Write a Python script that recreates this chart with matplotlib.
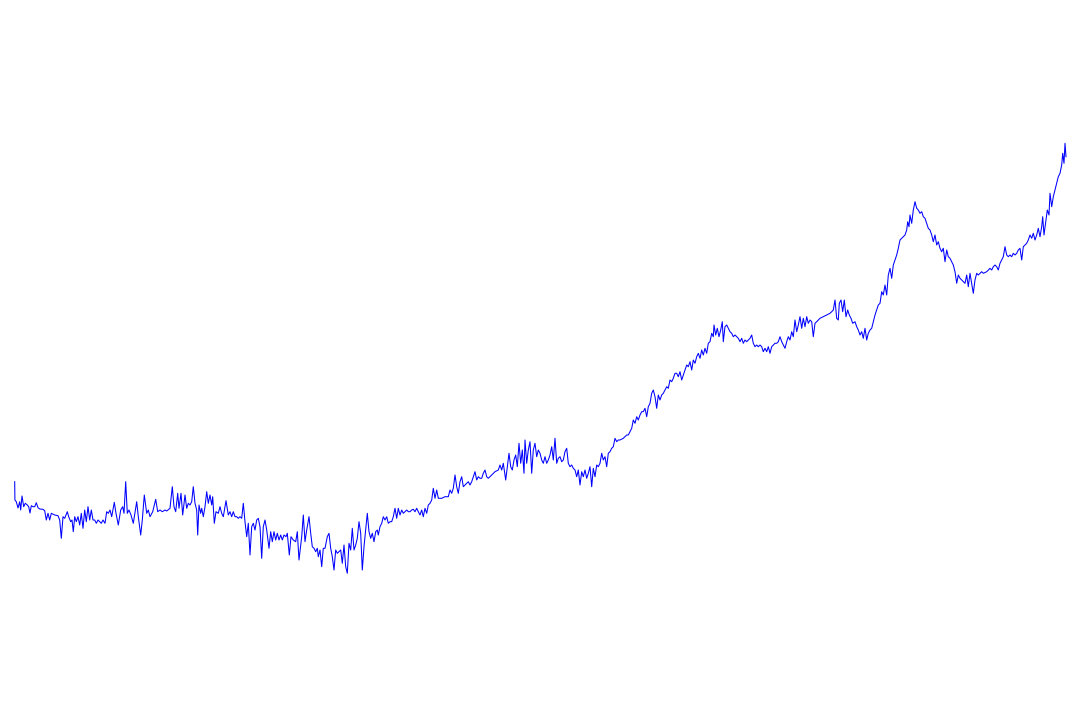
import numpy as np
import matplotlib
matplotlib.use("Agg")
import matplotlib.pyplot as plt

# series, in chunks along the time axis
day_a = [14.7, 14.9, 16.3, 18, 19.7, 20.7, 22, 23.7, 25.3, 27.3, 28.7, 30, 31.3, 33, 34.7, 36.3, 38, 39.7, 43, 44.7,
         46.3, 48, 49.7, 51.3, 54.7, 58, 59.7, 61.3, 63, 64.7, 67.3, 68.7, 70.7, 72, 73.3, 74.7, 76.3, 78, 79.7, 81.3,
         83, 84.7, 86.3, 88, 89.7, 91.3, 93, 94.7, 96.3, 98, 99.7, 101.3, 103]
val_a = [118.3, 100, 98.3, 92, 98.3, 90, 104, 93.3, 96.7, 95, 93.3, 87, 94.3, 93.3, 93.3, 97.3, 92.3, 91, 90.7, 89.3,
         80, 86.7, 80, 86.7, 85, 84.3, 80, 61.7, 83.3, 81.7, 88.3, 83.3, 78.3, 80, 68.3, 83.3, 78.3, 83.3, 75, 86.7,
         71.7, 90, 78.3, 93.3, 80, 90, 80, 80, 76.7, 80, 78.3, 76.7, 80]

day_b = [105, 106.7, 108.3, 110, 111.7, 114.3, 116, 118.3, 120.7, 122.7, 124, 125.7, 127.3, 129, 131, 133.3, 136.7,
         138.3, 140.7, 142.3, 144.3, 146.7, 148.3, 150, 152.7, 155.7, 157.7, 160, 162.3, 165, 166.7, 170, 172.3, 174,
         175.7, 177.7, 179, 181, 182.7, 185, 186.7, 188.3, 190, 191.7, 193.3, 195, 196.7, 197.7, 199]
val_b = [76.7, 88.3, 86.7, 90, 83.3, 97.7, 86.7, 75, 90, 93.3, 86.7, 118.3, 86.7, 90, 85, 76.7, 98.3, 83.3, 65, 80,
         105, 86.7, 90, 83.3, 88.3, 100.7, 88.3, 90, 88.3, 90, 89, 91.7, 113.3, 93.3, 88.3, 106.7, 91.7, 106.7, 85,
         105, 91.7, 96.7, 95, 98.3, 113.3, 96.7, 90, 65, 95]

day_c = [200.7, 201.7, 203.3, 205, 206.7, 208.3, 210, 211.7, 212.7, 214.3, 216, 218.3, 220, 221.7, 223.3, 226, 228.3,
         230, 231.7, 233.3, 235, 236.7, 238.3, 240, 241.7, 243.3, 245, 246.7, 248.3, 250, 251.7, 253.3, 255, 256.7,
         258.3, 260, 261.7, 263.3, 265, 266.7, 269, 270.7, 272.3, 274, 275.7, 277.3, 279, 280.7, 282.3, 284, 286,
         287.3, 289.3, 291, 293.3, 295.7, 297.3, 299]
val_c = [86.7, 91.7, 83.3, 93.3, 108.3, 96.7, 105, 95, 103.3, 76.7, 88.3, 86.7, 93.3, 86.7, 83.3, 99.3, 85, 88.3,
         83.3, 88.3, 83.3, 83.3, 81.7, 83.3, 81.7, 96.7, 78.3, 63.3, 76.7, 45, 73.3, 76.7, 70, 80, 81.7, 73.3, 41.7,
         73.3, 80, 70, 51.7, 68.3, 58.3, 68.3, 60, 66.7, 60, 65, 60, 65, 63.3, 66.7, 45, 63.3, 60, 58.3, 68.3, 40]

day_d = [301.7, 303.3, 305, 306.7, 309, 310.7, 312.3, 314, 315.7, 317.3, 318.3, 320, 321.7, 323.3, 325, 327.3, 329,
         330.7, 332.3, 334, 335.7, 337.3, 339, 340.7, 342.3, 344, 345.7, 347.3, 349, 350.7, 352.3, 354, 355.7, 357.3,
         359, 360.7, 362.3, 364, 365.7, 367.3, 369, 370.7, 372.3, 374, 375.7, 377.3, 378.3, 380, 381.7, 383.3, 385,
         386.7, 388.3]
val_d = [63.3, 85, 58.3, 70, 83.3, 66.7, 53.3, 51.7, 48.3, 51.7, 43.3, 50, 33.3, 51.7, 51.7, 63.3, 66.7, 51.7, 43.3,
         30, 50, 46.7, 48.3, 50, 36.7, 55, 33.3, 26.7, 56.7, 50, 71.7, 50, 55, 61.7, 78.3, 66.7, 30, 53.3, 70, 86.7,
         68.3, 61.7, 66.7, 58.3, 68.3, 70, 65, 73.3, 76.7, 83.3, 80, 83.3, 76.7]

day_e = [390, 391.7, 393.3, 395, 396.7, 398.3, 400, 401.7, 403.3, 405, 406.7, 408.3, 410, 411.7, 413.3, 415, 416.7,
         418.3, 420, 421.7, 423.3, 425, 426.7, 428.3, 430, 431.7, 433.3, 435, 436.7, 438.3, 441.7, 445, 448.3, 450,
         451.7, 453.3, 455, 456.7, 458.3, 460, 461.7, 463.3, 465, 466.7, 468.3, 470, 471.7, 475, 476.7, 478.3, 480,
         481.7, 483.3, 485]
val_e = [78.3, 78.3, 83.3, 91.7, 81.7, 91.7, 85, 90, 86.7, 88.3, 90, 88.3, 88.3, 90, 90.7, 88.3, 91.7, 88.3, 85, 90,
         83.3, 91.7, 86.7, 95, 96.7, 100, 111.7, 101.7, 110, 101.7, 101.7, 103.3, 103.3, 110, 106.7, 111.7, 125,
         113.3, 106.7, 118.3, 123.3, 113.3, 115, 116.7, 118.3, 115, 118.3, 128.3, 120, 123.3, 121.7, 121.7, 126.7, 130]

day_f = [486.7, 488.3, 490, 491.7, 495, 498.3, 500, 501.7, 503.3, 505.7, 507.3, 509, 510.7, 512.3, 514, 515.7, 517.3,
         519, 520.7, 522.3, 524, 525, 526.7, 528.3, 530, 531.7, 533.3, 535, 536.7, 538.3, 540, 541.7, 543.3, 545,
         546.7, 548.3, 550, 551.7, 553.3, 555, 556.7, 558.3, 560, 561.7, 563.3, 565, 566.7, 568.3, 570, 571.7, 573.3,
         575, 576.7, 578.3, 580, 581.7, 583.3]
val_f = [123.3, 121.7, 123.3, 125, 128.3, 130, 135, 130, 136.7, 120, 133.3, 146.7, 133.3, 130, 140, 145, 133.3, 156.7,
         136.7, 150, 126.7, 160, 136.7, 150, 158.3, 126.7, 150, 156.7, 143.3, 150, 146.7, 140, 136.7, 143.3, 136.7,
         140, 145, 153.3, 140, 161.7, 136.7, 141.7, 143.3, 138.3, 140, 148.3, 151.7, 136.7, 133.3, 135, 131.7, 130,
         123.3, 130, 115, 128.3, 123.3]

day_g = [585, 586.7, 588.3, 590, 591.7, 593.3, 595, 596.7, 598.3, 600, 601.7, 603.3, 605, 606.7, 608.3, 610, 611.7,
         613.3, 615, 616.7, 618.3, 620, 623.3, 626.7, 628.3, 630, 631.7, 633.3, 635, 636.7, 638.3, 640, 641.7, 643.3,
         645, 646.7, 648.3, 650, 651.7, 653.3, 655, 656.7, 658.3, 660, 661.7, 663.3, 665, 666.7, 668.3, 670, 671.7,
         673.3]
val_g = [130, 121.7, 126.7, 133.3, 113.3, 131.7, 123.3, 135, 133.3, 136.7, 146.7, 140, 143.3, 133.3, 146.7, 148.3,
         151.7, 153.3, 161.7, 158.3, 160, 160, 161.7, 165, 165, 168.3, 171.7, 180, 176.7, 183.3, 180, 185, 188.3,
         188.3, 191.7, 183.3, 193.3, 196.7, 206.7, 210, 203.3, 191.7, 205, 200, 205, 206.7, 210, 213.3, 211.7, 220,
         218.3, 221.7]

day_h = [675, 676.7, 678.3, 680, 681.7, 683.3, 685, 686.7, 688.3, 690, 691.7, 693.3, 695, 696.7, 698.3, 700, 701.7,
         703.3, 705, 706.7, 708.3, 710, 711.7, 713.3, 714, 715.7, 717.3, 719, 720.7, 722.3, 723.3, 725, 726.7, 728.3,
         730, 731.7, 733.3, 735, 736.7, 738.3, 740, 741.7, 743.3, 745, 746.7, 748.3, 750, 751.7, 753.3, 755, 756.7,
         758.3, 760, 761.7, 763.3, 765, 766.7, 768.3, 770, 771.7, 773.3, 775]
val_h = [226.7, 226.7, 223.3, 228.3, 220, 225, 230, 235, 233.3, 238.3, 230, 240, 236.7, 243.3, 246.7, 241.7, 250, 245,
         251.7, 246.7, 256.7, 258.3, 266.7, 263.3, 275, 265, 271.7, 263.3, 270, 278.3, 258.3, 273.3, 275, 271.7,
         268.3, 266.7, 263.3, 265, 263.3, 261.7, 258.3, 261.7, 256.7, 260, 258.3, 260, 261.7, 265, 256.7, 253.3, 255,
         253.3, 255, 253.3, 248.3, 251.7, 248.3, 253.3, 246.7, 253.3, 255, 256.7]

day_i = [776.7, 778.3, 780, 781.7, 783.3, 785, 786.7, 788.3, 790, 791.7, 793.3, 795, 796.7, 798.3, 800, 801.7, 803.3,
         805, 806.7, 808.3, 810, 811.7, 813.3, 815, 816.7, 820, 823.3, 826.7, 830, 831.7, 833.3, 835, 836.7, 838.3,
         839.3, 841, 842.7, 844.3, 846, 847.7, 849.3, 851, 852.7, 855, 856.7, 858.3, 860, 861.7, 863.3, 865, 866.7]
val_i = [256.7, 258.3, 263.3, 258.3, 255, 251.7, 258.3, 263.3, 260, 268.3, 263.3, 280, 268.3, 275, 283.3, 271.7,
         281.7, 273.3, 283.3, 276.7, 280, 278.3, 263.3, 276.7, 278.3, 281.7, 283.3, 285, 286.7, 288.3, 290, 300,
         281.7, 280, 296.7, 300, 288.3, 300, 283.3, 290, 285, 281.7, 276.7, 278.3, 273.3, 270, 265, 268.3, 261.7,
         271.7, 260]

day_j = [868.3, 870, 871.7, 873.3, 875, 876.7, 878.3, 880, 881.7, 883.3, 885, 886.7, 888.3, 890, 891.7, 893.3, 895,
         896.7, 898.3, 900, 901.7, 903.3, 905, 906.7, 907.7, 909, 910, 911.7, 913.3, 915, 916.7, 918.3, 920, 921.7,
         923.3, 925, 926.7, 928.3, 930, 931.7, 933.3, 935, 936.7, 938.3, 940, 941.7, 943.3, 945, 946.7, 948.3, 950,
         951.7, 953.3, 955, 956.7, 958.3, 960, 961.7, 963.3, 965]
val_j = [266.7, 270, 271.7, 278.3, 285, 290, 295, 296.7, 308.3, 305, 315, 305, 325, 331.7, 321.7, 335, 340, 345,
         351.7, 360, 361.7, 363.3, 365, 370, 378.3, 373.3, 385, 376.7, 390, 398.3, 391.7, 390, 386.7, 388.3, 383.3,
         381.7, 376.7, 371.7, 370, 365, 358.3, 365, 355, 358.3, 351.7, 348.3, 351.7, 338.3, 350, 343.3, 341.7, 338.3,
         335, 328.3, 316.7, 325, 321.7, 320, 318.3, 316.7]

day_k = [966.7, 968.3, 970, 971.7, 973.3, 975, 976.7, 978.3, 980, 981.7, 983.3, 986.7, 990, 991.7, 993.3, 995, 996.7,
         998.3, 1000, 1001.7, 1003.3, 1005, 1006.7, 1008.3, 1010, 1011.7, 1013.3, 1015, 1016.7, 1018.3, 1020, 1021.7,
         1023.3, 1025, 1026.7, 1028.3, 1030, 1031.7, 1033.3, 1035, 1036.7, 1038.3, 1040, 1041.7, 1042.7, 1044,
         1045.7, 1047.3, 1049, 1050, 1051.7, 1053.3, 1055, 1056.7, 1058.3, 1060, 1061.7, 1062.7, 1064, 1065, 1066]
val_k = [325, 313.3, 326.7, 316.7, 306.7, 320, 326.7, 325, 326.7, 328.3, 326.7, 328.3, 331.7, 330, 333.3, 335, 333.3,
         330, 336.7, 340, 343.3, 353.3, 345, 343.3, 345, 343.3, 346.7, 345, 346.7, 350, 351.7, 340, 353.3, 355, 356.7,
         360, 365, 361.7, 366.7, 360, 365, 371.7, 363.3, 373.3, 383.3, 365, 378.3, 390, 385, 406.7, 393.3, 403.3,
         410, 416.7, 423.3, 426.7, 435, 446.7, 436.7, 456.7, 443.3]

days = np.concatenate([day_a, day_b, day_c, day_d, day_e, day_f, day_g, day_h, day_i, day_j, day_k])
values = np.concatenate([val_a, val_b, val_c, val_d, val_e, val_f, val_g, val_h, val_i, val_j, val_k])

fig = plt.figure(figsize=(10.8, 7.2), dpi=100)
ax = fig.add_axes([0, 0, 1, 1])
ax.plot(days, values, color="blue", linewidth=0.75)

# no axes, ticks or labels in the original, just the line
ax.set_xlim(0, 1080)
ax.set_ylim(-120, 600)
ax.axis("off")

fig.savefig("out.png", dpi=100)
